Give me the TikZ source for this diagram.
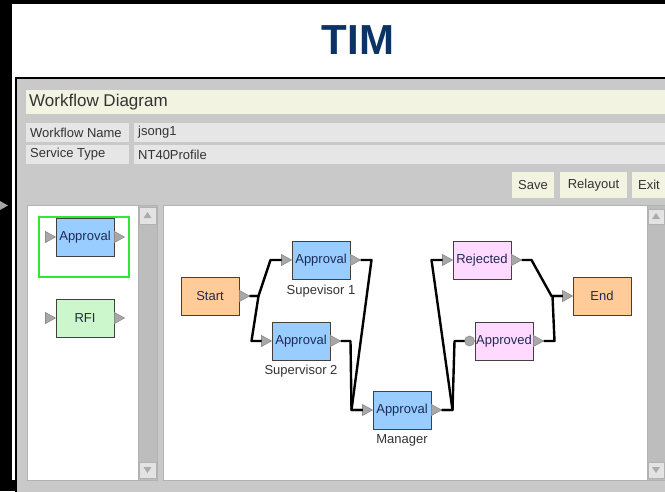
\documentclass[tikz,border=0pt]{standalone}
\usepackage{fontspec}
\setmainfont{Liberation Sans}
\definecolor{timblue}{HTML}{0B3464}
\definecolor{panelgray}{HTML}{C9C9C9}
\definecolor{barbeige}{HTML}{F3F3E1}
\definecolor{fieldgray}{HTML}{E6E6E6}
\definecolor{trackgray}{HTML}{BDBDBD}
\definecolor{nodeblue}{HTML}{99CCFF}
\definecolor{nodeorange}{HTML}{FFCC99}
\definecolor{nodepink}{HTML}{FFD9FF}
\definecolor{nodegreen}{HTML}{CCF7CC}
\definecolor{selgreen}{HTML}{33E633}
\definecolor{porttone}{HTML}{A8A8A8}
\definecolor{inktext}{HTML}{1E2A55}
\begin{document}
\begin{tikzpicture}[x=1pt,y=-1pt,
  uitext/.style={font=\fontsize{13}{15}\selectfont, text=black!80, inner sep=0pt},
  btn/.style={fill=barbeige, minimum height=26pt, inner sep=0pt, font=\fontsize{13}{15}\selectfont, text=black!80},
  wfbox/.style={draw=black!75, line width=1pt, minimum width=58pt, minimum height=38pt, inner sep=0pt, font=\fontsize{13}{15}\selectfont, text=inktext},
  port/.style={fill=porttone, draw=black!45, line width=0.6pt},
  scrollbtn/.style={fill=gray!22, draw=gray!60, line width=0.6pt},
  link/.style={draw=black, line width=2.4pt, line join=round}
]
  \useasboundingbox (0,0) rectangle (665,491);
  \fill[black] (0,0) rectangle (665,491);
  \fill[white] (12,4) rectangle (665,480);
  \fill[gray!70] (0,201) -- (8,205.5) -- (0,210) -- cycle;
  \node[font=\fontsize{42}{46}\selectfont\bfseries, text=timblue] (title) at (358,40) {TIM};
  \filldraw[fill=panelgray, draw=black, line width=1.5pt] (16,78) rectangle (668,494);
  \fill[barbeige] (26,90) rectangle (665,114);
  \node[font=\fontsize{17}{20}\selectfont, text=black!80, anchor=west, inner sep=0pt] (heading) at (29,102) {Workflow Diagram};
  \fill[fieldgray] (26,123) rectangle (129,142);
  \fill[fieldgray] (134,123) rectangle (665,142);
  \fill[fieldgray] (26,145) rectangle (129,164);
  \fill[fieldgray] (134,145) rectangle (665,164);
  \node[uitext, anchor=west] (namelbl) at (30,132.5) {Workflow Name};
  \node[uitext, anchor=west] (nameval) at (138,132.5) {jsong1};
  \node[uitext, anchor=west] (typelbl) at (30,154.5) {Service Type};
  \node[uitext, anchor=west] (typeval) at (138,154.5) {NT40Profile};
  \node[btn, minimum width=42pt] (save) at (533,185) {Save};
  \node[btn, minimum width=67pt] (relayout) at (593.5,185) {Relayout};
  \node[btn, minimum width=34pt] (exit) at (649,185) {Exit};
  \filldraw[fill=white, draw=gray!60] (27,205) rectangle (138,480);
  \filldraw[fill=trackgray, draw=gray!60] (138,205) rectangle (157,480);
  \filldraw[scrollbtn] (139,207) rectangle (156,224);
  \fill[gray!65] (147.5,212) -- (151.5,218) -- (143.5,218) -- cycle;
  \filldraw[scrollbtn] (139,462) rectangle (156,478);
  \fill[gray!65] (147.5,473) -- (151.5,467) -- (143.5,467) -- cycle;
  \filldraw[fill=white, draw=gray!60] (163,205) rectangle (647,480);
  \filldraw[fill=trackgray, draw=gray!60] (647,205) rectangle (666,480);
  \filldraw[scrollbtn] (648,209) rectangle (664,224);
  \fill[gray!65] (656,213) -- (660,219) -- (652,219) -- cycle;
  \filldraw[scrollbtn] (648,462) rectangle (664,478);
  \fill[gray!65] (656,473) -- (660,467) -- (652,467) -- cycle;
  \draw[selgreen, line width=2pt] (39,217) rectangle (129,277);
  \node[wfbox, fill=nodeblue] (pal1) at (85,237) {Approval};
  \node[wfbox, fill=nodegreen] (pal2) at (85,318) {RFI};
  \node[wfbox, fill=nodeorange] (start) at (210,296) {Start};
  \node[wfbox, fill=nodeblue] (sup1) at (321,260) {Approval};
  \node[wfbox, fill=nodeblue] (sup2) at (301,341) {Approval};
  \node[wfbox, fill=nodeblue] (mgr) at (402,410) {Approval};
  \node[wfbox, fill=nodepink] (rej) at (482,260) {Rejected};
  \node[wfbox, fill=nodepink] (appr) at (504,341) {Approved};
  \node[wfbox, fill=nodeorange] (endn) at (602,296) {End};
  \node[uitext] (sup1lbl) at (321,291) {Supevisor 1};
  \node[uitext] (sup2lbl) at (301,371) {Supervisor 2};
  \node[uitext] (mgrlbl) at (402,440) {Manager};
  \foreach \n in {pal1,pal2,start,sup1,sup2,mgr,rej,appr}
    \filldraw[port] (\n.east) ++(0,-5.5) -- ++(10,5.5) -- ++(-10,5.5) -- cycle;
  \foreach \n in {pal1,pal2,sup1,sup2,mgr,rej,endn}
    \filldraw[port] (\n.west) -- ++(-10,-5.5) -- ++(0,11) -- cycle;
  \filldraw[port] ([xshift=-5pt]appr.west) circle[radius=5];
  \draw[link] ([xshift=10pt]start.east) -- ++(9,0) -- ([xshift=-21pt]sup1.west) -- ([xshift=-10pt]sup1.west);
  \draw[link] ([xshift=10pt]start.east) -- ++(9,0) -- ([xshift=-20pt]sup2.west) -- ([xshift=-10pt]sup2.west);
  \draw[link] ([xshift=10pt]sup1.east) -- ++(11,0) -- ([xshift=-21pt]mgr.west) -- ([xshift=-10pt]mgr.west);
  \draw[link] ([xshift=10pt]sup2.east) -- ++(10,0) -- ([xshift=-21pt]mgr.west) -- ([xshift=-10pt]mgr.west);
  \draw[link] ([xshift=10pt]mgr.east) -- ++(11,0) -- ([xshift=-21pt]rej.west) -- ([xshift=-10pt]rej.west);
  \draw[link] ([xshift=10pt]mgr.east) -- ++(11,0) -- ([xshift=-20pt]appr.west) -- ([xshift=-10pt]appr.west);
  \draw[link] ([xshift=10pt]rej.east) -- ++(10,0) -- ([xshift=-21pt]endn.west) -- ([xshift=-10pt]endn.west);
  \draw[link] ([xshift=10pt]appr.east) -- ++(11,0) -- ([xshift=-20pt]endn.west) -- ([xshift=-10pt]endn.west);
\end{tikzpicture}
\end{document}
